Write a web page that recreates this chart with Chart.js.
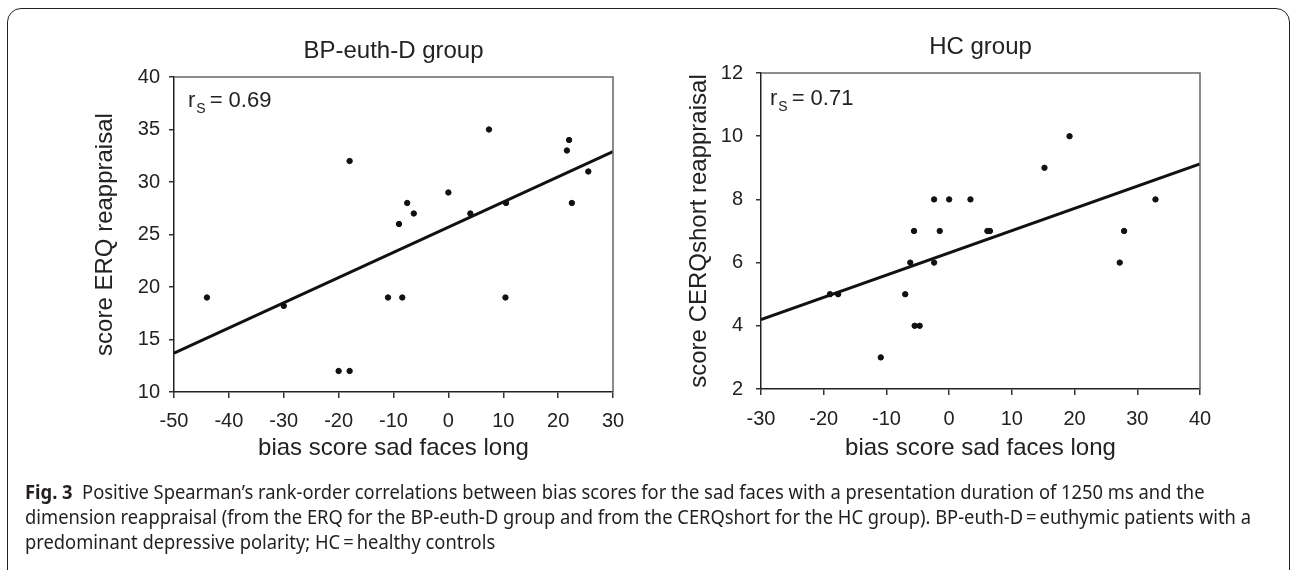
<!DOCTYPE html>
<html>
<head>
<meta charset="utf-8">
<script src="https://cdn.jsdelivr.net/npm/chart.js@4.4.1/dist/chart.umd.min.js"></script>
<style>
  html, body { margin: 0; padding: 0; background: #fff; width: 1292px; height: 570px; overflow: hidden; }
  .frame { position: absolute; left: 7px; top: 8px; width: 1281px; height: 640px; border: 1.5px solid #222; border-radius: 14px; }
  #bpChart { position: absolute; left: 0; top: 0; }
  #hcChart { position: absolute; left: 650px; top: 0; }
  .caption { position: absolute; left: 25px; top: 480px; font-family: "Noto Sans", "Open Sans", sans-serif;
             font-size: 19px; line-height: 25px; color: #231f20; white-space: nowrap; transform-origin: 0 0; }
  .caption b { font-weight: bold; }
</style>
</head>
<body>
<div class="frame"></div>
<canvas id="bpChart" width="650" height="480"></canvas>
<canvas id="hcChart" width="642" height="480"></canvas>
<div class="caption">
  <span class="ln"><b>Fig. 3</b>&nbsp; Positive Spearman’s rank-order correlations between bias scores for the sad faces with a presentation duration of 1250 ms and the</span><br>
  <span class="ln" id="capRef">dimension reappraisal (from the ERQ for the BP-euth-D group and from the CERQshort for the HC group). BP-euth-D&#8201;=&#8201;euthymic patients with a</span><br>
  <span class="ln">predominant depressive polarity; HC&#8201;=&#8201;healthy controls</span>
</div>
<script>
// BP-euth-D group: bias score (x) vs ERQ reappraisal (y)
const bpBias = [-44, -30, -18, -20, -18, -11, -8.4, -9, -7.5, -6.3, 0, 4, 7.4, 10.5, 10.4, 21.6, 22, 22.5, 25.5];
const bpErq  = [19, 18.2, 32, 12, 12, 19, 19, 26, 28, 27, 29, 27, 35, 28, 19, 33, 34, 28, 31];
const bpFitX = [-50, 30];
const bpFitY = [13.7, 32.9];
const bpXTicks = [-50, -40, -30, -20, -10, 0, 10, 20, 30];
const bpYTicks = [10, 15, 20, 25, 30, 35, 40];

// HC group: bias score (x) vs CERQshort reappraisal (y)
const hcBias = [-19, -17.7, -10.9, -7, -6.2, -5.6, -5.5, -4.7, -2.4, -2.4, -1.5, 0, 3.4, 6.1, 6.5, 15.2, 19.2, 27.2, 27.9, 32.9];
const hcCerq = [5, 5, 3, 5, 6, 7, 4, 4, 8, 6, 7, 8, 8, 7, 7, 9, 10, 6, 7, 8];
const hcFitX = [-30, 40];
const hcFitY = [4.2, 9.12];
const hcXTicks = [-30, -20, -10, 0, 10, 20, 30, 40];
const hcYTicks = [2, 4, 6, 8, 10, 12];

const FONT = '"Liberation Sans", Arial, sans-serif';
const INK = '#222';

// caption is set in a condensed face in the original; squeeze it to the same line length
const capRef = document.getElementById('capRef');
const capScale = 1226 / capRef.getBoundingClientRect().width;
document.querySelector('.caption').style.transform = 'scaleX(' + capScale + ')';

// panel title, r_s note and the grey top/right edges of the plot box
const panelDeco = {
    id: 'panelDeco',
    afterDraw(chart, args, opts) {
        const ctx = chart.ctx;
        const a = chart.chartArea;
        ctx.save();
        ctx.strokeStyle = '#666';
        ctx.lineWidth = 1.5;
        ctx.beginPath();
        ctx.moveTo(a.left, a.top);
        ctx.lineTo(a.right, a.top);
        ctx.lineTo(a.right, a.bottom);
        ctx.stroke();

        ctx.fillStyle = INK;
        ctx.textBaseline = 'alphabetic';
        ctx.textAlign = 'center';
        ctx.font = '24px ' + FONT;
        ctx.fillText(opts.title, (a.left + a.right) / 2, a.top - 19);

        ctx.textAlign = 'left';
        let x = a.left + opts.rsDx, y = a.top + opts.rsDy;
        ctx.font = '22px ' + FONT;
        ctx.fillText('r', x, y);
        x += ctx.measureText('r').width + 1;
        ctx.font = '14px ' + FONT;
        ctx.fillText('S', x, y + 6);
        x += ctx.measureText('S').width + 4;
        ctx.font = '22px ' + FONT;
        ctx.fillText('= ' + opts.rs, x, y);
        ctx.restore();
    }
};

function makePanel(id, c) {
    const points = c.xs.map((x, i) => ({ x: x, y: c.ys[i] }));
    const fit = c.fitX.map((x, i) => ({ x: x, y: c.fitY[i] }));
    return new Chart(document.getElementById(id), {
        type: 'scatter',
        data: {
            datasets: [
                { data: points, backgroundColor: '#111', borderColor: '#111', pointRadius: 2.7, pointHoverRadius: 2.7, order: 2 },
                { type: 'line', data: fit, borderColor: '#111', borderWidth: 3, pointRadius: 0, fill: false, order: 1 }
            ]
        },
        options: {
            responsive: false,
            animation: false,
            events: [],
            layout: { padding: { left: 0, top: c.top, right: c.right, bottom: 0 } },
            plugins: {
                legend: { display: false },
                tooltip: { enabled: false },
                panelDeco: { title: c.title, rs: c.rs, rsDx: c.rsDx, rsDy: c.rsDy }
            },
            scales: {
                x: {
                    type: 'linear',
                    min: c.xTicks[0],
                    max: c.xTicks[c.xTicks.length - 1],
                    afterBuildTicks: s => { s.ticks = c.xTicks.map(v => ({ value: v })); },
                    afterFit: s => { s.height = c.xh; },
                    grid: { drawOnChartArea: false, drawTicks: true, tickLength: 6, color: '#333', lineWidth: 1.5 },
                    border: { display: true, color: INK, width: 1.5 },
                    ticks: { color: INK, font: { size: 20, family: FONT }, padding: c.xPad, maxRotation: 0, autoSkip: false },
                    title: { display: true, text: 'bias score sad faces long', color: INK,
                             font: { size: 24, family: FONT }, padding: { top: 0, bottom: 17 } }
                },
                y: {
                    type: 'linear',
                    min: c.yTicks[0],
                    max: c.yTicks[c.yTicks.length - 1],
                    afterBuildTicks: s => { s.ticks = c.yTicks.map(v => ({ value: v })); },
                    afterFit: s => { s.width = c.yw; },
                    grid: { drawOnChartArea: false, drawTicks: true, tickLength: 5, color: '#333', lineWidth: 1.5 },
                    border: { display: true, color: INK, width: 1.5 },
                    ticks: { color: INK, font: { size: 20, family: FONT }, padding: c.yPad, autoSkip: false },
                    title: { display: true, text: c.yTitle, color: INK,
                             font: { size: 24, family: FONT }, padding: { top: c.yTitlePad, bottom: 0 } }
                }
            }
        },
        plugins: [panelDeco]
    });
}

makePanel('bpChart', {
    xs: bpBias, ys: bpErq, fitX: bpFitX, fitY: bpFitY, xTicks: bpXTicks, yTicks: bpYTicks,
    title: 'BP-euth-D group', rs: '0.69', yTitle: 'score ERQ reappraisal',
    top: 77, right: 37, xh: 88, yw: 174, xPad: 11, yPad: 9, yTitlePad: 91, rsDx: 14, rsDy: 30
});

makePanel('hcChart', {
    xs: hcBias, ys: hcCerq, fitX: hcFitX, fitY: hcFitY, xTicks: hcXTicks, yTicks: hcYTicks,
    title: 'HC group', rs: '0.71', yTitle: 'score CERQshort reappraisal',
    top: 73, right: 92, xh: 91, yw: 111, xPad: 12, yPad: 13, yTitlePad: 35, rsDx: 9, rsDy: 32
});
</script>
</body>
</html>
